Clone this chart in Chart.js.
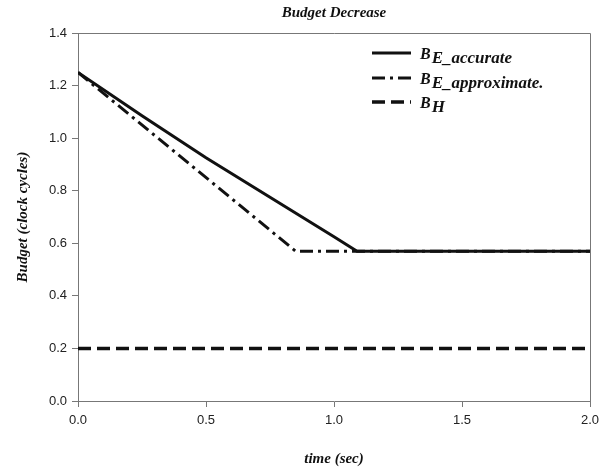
<!DOCTYPE html>
<html>
<head>
<meta charset="utf-8">
<title>Budget Decrease</title>
<script src="https://cdn.jsdelivr.net/npm/chart.js@4.4.1/dist/chart.umd.min.js"></script>
<style>
  html, body { margin:0; padding:0; background:#fff; }
  #wrap { width:600px; height:470px; position:relative; }
</style>
</head>
<body>
<div id="wrap"><canvas id="chart" width="600" height="470"></canvas></div>
<script>
/* Budget decrease over time: accurate vs approximate estimate, and B_H */
const TIME_ACC   = [0, 0.25, 0.5, 0.75, 1.0, 1.09, 2.0];
const BUDGET_ACC = [1.25, 1.085, 0.925, 0.775, 0.625, 0.57, 0.57];
const TIME_APX   = [0, 0.85, 2.0];
const BUDGET_APX = [1.25, 0.57, 0.57];
const TIME_H     = [0, 2.0];
const BUDGET_H   = [0.2, 0.2];
const X_TICKS = [0, 0.5, 1.0, 1.5, 2.0];
const Y_TICKS = [0, 0.2, 0.4, 0.6, 0.8, 1.0, 1.2, 1.4];

const SERIF = '"Liberation Serif", "DejaVu Serif", serif';
const SANS  = '"Liberation Sans", Arial, sans-serif';
const AXIS_COLOR = '#777';

function pts(xs, ys){ return xs.map((x,i)=>({x, y: ys[i]})); }

const SERIES = [
  { sub:'E_accurate',     data: pts(TIME_ACC, BUDGET_ACC), dash: [],            width: 3 },
  { sub:'E_approximate.', data: pts(TIME_APX, BUDGET_APX), dash: [13,5,3,5],    width: 3 },
  { sub:'H',              data: pts(TIME_H, BUDGET_H),     dash: [13,6],        width: 3.5 }
];

// frame, title, axis titles and the subscript legend
const decor = {
  id: 'decor',
  afterDraw(chart){
    const {ctx, chartArea: a} = chart;
    ctx.save();
    ctx.strokeStyle = AXIS_COLOR; ctx.lineWidth = 1;
    ctx.beginPath();
    ctx.moveTo(a.left, a.top + 0.5); ctx.lineTo(a.right + 0.5, a.top + 0.5);
    ctx.lineTo(a.right + 0.5, a.bottom);
    ctx.stroke();

    const cx = (a.left + a.right) / 2;
    ctx.fillStyle = '#111';
    ctx.textAlign = 'center'; ctx.textBaseline = 'alphabetic';
    ctx.font = 'italic bold 15px ' + SERIF;
    ctx.fillText('Budget Decrease', cx, 17);
    ctx.fillText('time (sec)', cx, 463);
    ctx.save();
    ctx.translate(27, (a.top + a.bottom) / 2);
    ctx.rotate(-Math.PI/2);
    ctx.fillText('Budget (clock cycles)', 0, 0);
    ctx.restore();

    // legend
    const rows = [53, 78, 102];
    SERIES.forEach((s, i) => {
      const y = rows[i];
      ctx.strokeStyle = '#111'; ctx.lineWidth = s.width;
      ctx.setLineDash(s.dash);
      ctx.beginPath(); ctx.moveTo(372, y); ctx.lineTo(411, y); ctx.stroke();
      ctx.setLineDash([]);
      ctx.textAlign = 'left';
      ctx.font = 'italic bold 16px ' + SERIF;
      ctx.fillText('B', 420, y + 6);
      const w = ctx.measureText('B').width;
      ctx.font = 'italic bold 17px ' + SERIF;
      ctx.fillText(s.sub, 420 + w + 1, y + 10);
    });
    ctx.restore();
  }
};

new Chart(document.getElementById('chart'), {
  type: 'scatter',
  data: {
    datasets: SERIES.map(s => ({
      label: 'B' + s.sub,
      data: s.data,
      showLine: true,
      borderColor: '#111',
      borderWidth: s.width,
      borderDash: s.dash,
      pointRadius: 0,
      fill: false,
      tension: 0
    }))
  },
  options: {
    responsive: false,
    animation: false,
    layout: { padding: { top: 33, right: 0, left: 0, bottom: 0 } },
    plugins: { legend: { display: false }, title: { display: false }, tooltip: { enabled: false } },
    scales: {
      x: {
        type: 'linear', min: 0, max: 2.0,
        afterBuildTicks: sc => { sc.ticks = X_TICKS.map(v => ({value: v})); },
        afterFit: sc => { sc.height = 69; sc.paddingRight = 10; },
        grid: { drawOnChartArea: false, drawTicks: true, tickLength: 6, color: AXIS_COLOR },
        border: { color: AXIS_COLOR },
        ticks: { color: '#222', font: { family: SANS, size: 13 }, padding: 6, maxRotation: 0,
                 callback: v => v.toFixed(1) }
      },
      y: {
        type: 'linear', min: 0, max: 1.4,
        afterBuildTicks: sc => { sc.ticks = Y_TICKS.map(v => ({value: v})); },
        afterFit: sc => { sc.width = 78; },
        grid: { drawOnChartArea: false, drawTicks: true, tickLength: 6, color: AXIS_COLOR },
        border: { color: AXIS_COLOR },
        ticks: { color: '#222', font: { family: SANS, size: 13 }, padding: 5,
                 callback: v => v.toFixed(1) }
      }
    }
  },
  plugins: [decor]
});
</script>
</body>
</html>
